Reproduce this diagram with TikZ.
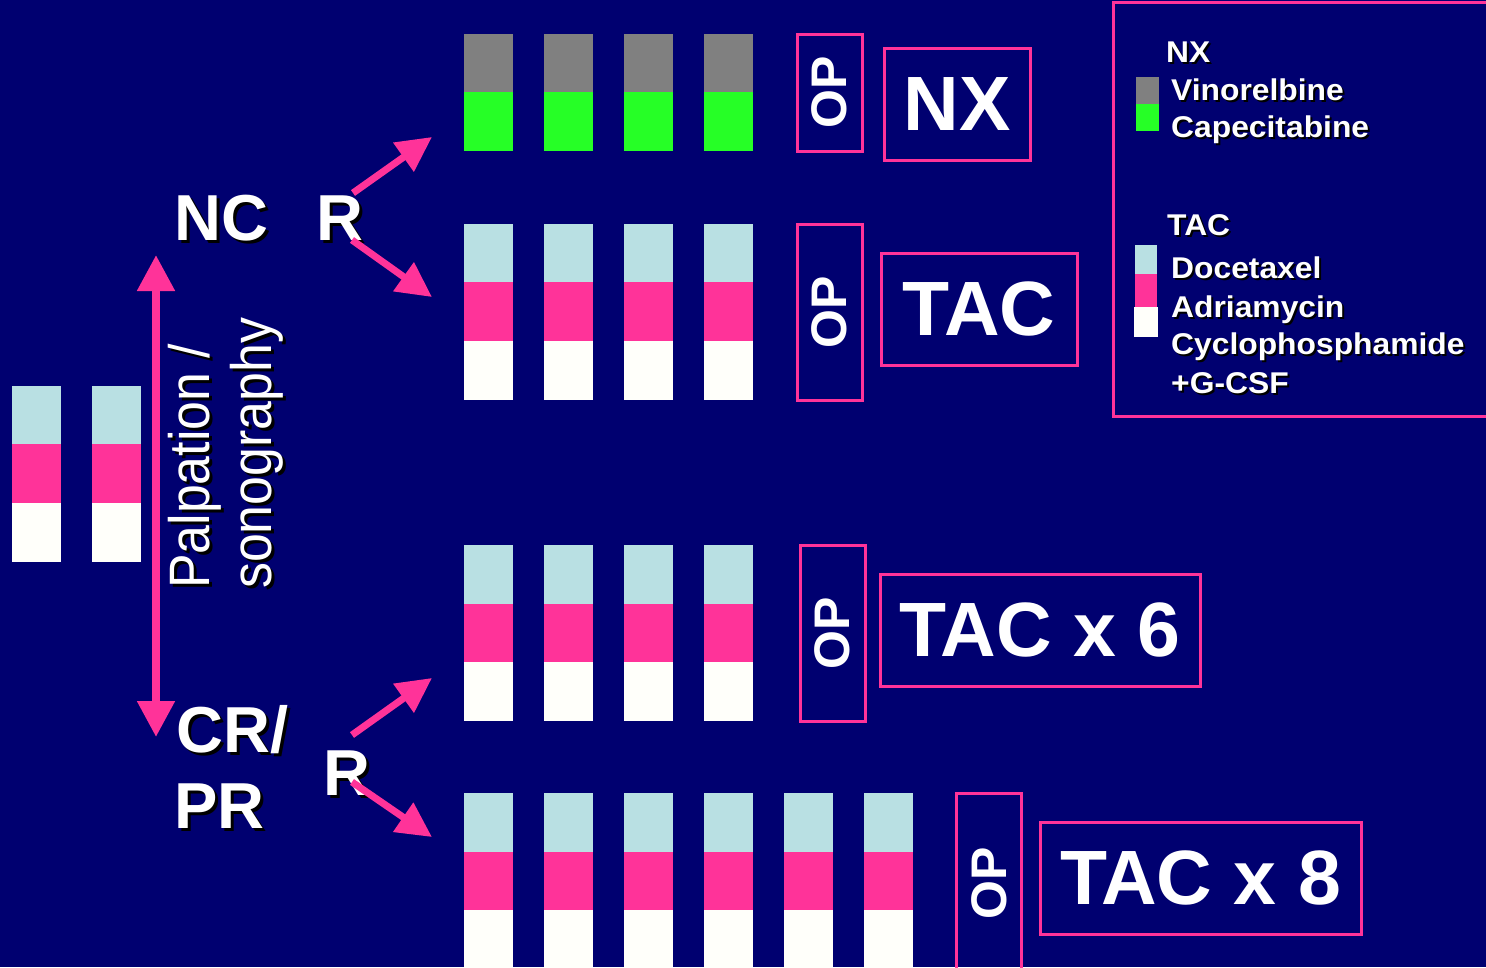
\documentclass[tikz,border=0pt]{standalone}
\usepackage{fontspec}
\setmainfont{Liberation Sans}
\newfontfamily\legfont[FakeStretch=1.06]{Liberation Sans}
\newfontfamily\palpfont[FakeStretch=0.91]{Liberation Sans}
\usetikzlibrary{arrows.meta}
\definecolor{navy}{RGB}{0,0,112}
\definecolor{hot}{RGB}{255,51,153}
\definecolor{lblue}{RGB}{185,224,227}
\definecolor{lgreen}{RGB}{38,255,38}
\definecolor{dgray}{RGB}{128,128,128}
\definecolor{offwhite}{RGB}{255,255,250}
\newcommand\stxt[6]{% name, x, y, style, shadow offset, text
  \node[#4, text=black] (#1s) at (#2+#5,#3+#5) {#6};
  \node[#4, text=white] (#1) at (#2,#3) {#6};}
\tikzset{
  bigl/.style={font=\fontsize{65}{70}\selectfont\bfseries, inner sep=0, anchor=base west},
  legl/.style={font=\legfont\fontsize{30}{34}\selectfont\bfseries, inner sep=0, anchor=base west},
  palp/.style={font=\palpfont\fontsize{57}{60}\selectfont, inner sep=0, anchor=base west, rotate=90},
  opbox/.style={draw=hot, line width=3, rotate=90, inner sep=0, text=white,
    font=\fontsize{50}{50}\selectfont\bfseries, minimum height=65},
  lblbox/.style={draw=hot, line width=3, inner sep=0, text=white,
    font=\fontsize{77}{80}\selectfont\bfseries, minimum height=112},
  arr/.style={hot, line width=7, -{Triangle[length=35pt,width=34pt]}},
  vArr/.style={hot, line width=8, {Triangle[length=36pt,width=36pt]}-{Triangle[length=36pt,width=36pt]}},
}
\begin{document}
\begin{tikzpicture}[x=1pt,y=-1pt]
\useasboundingbox (0,0) rectangle (1486,967);
\fill[navy] (0,0) rectangle (1486,967);
\clip (0,0) rectangle (1486,967);

% ---- left blocks
\foreach \x in {12,92}{
  \fill[lblue] (\x,386) rectangle (\x+49,444);
  \fill[hot] (\x,444) rectangle (\x+49,503);
  \fill[offwhite] (\x,503) rectangle (\x+49,562);
}
% ---- NX row
\foreach \x in {464,544,624,704}{
  \fill[dgray] (\x,34) rectangle (\x+49,92);
  \fill[lgreen] (\x,92) rectangle (\x+49,151);
}
% ---- TAC rows
\foreach \x in {464,544,624,704}{
  \fill[lblue] (\x,224) rectangle (\x+49,282);
  \fill[hot] (\x,282) rectangle (\x+49,341);
  \fill[offwhite] (\x,341) rectangle (\x+49,400);
  \fill[lblue] (\x,545) rectangle (\x+49,604);
  \fill[hot] (\x,604) rectangle (\x+49,662);
  \fill[offwhite] (\x,662) rectangle (\x+49,721);
}
\foreach \x in {464,544,624,704,784,864}{
  \fill[lblue] (\x,793) rectangle (\x+49,852);
  \fill[hot] (\x,852) rectangle (\x+49,910);
  \fill[offwhite] (\x,910) rectangle (\x+49,975);
}

% ---- OP boxes
\node[opbox, minimum width=117] (op1) at (829.5,92.5) {OP};
\node[opbox, minimum width=176] (op2) at (829.5,312) {OP};
\node[opbox, minimum width=176] (op3) at (832.5,633) {OP};
\node[opbox, minimum width=180] (op4) at (989,883) {OP};

% ---- regimen boxes
\node[lblbox, minimum width=146] (nx) at (957,104) {NX};
\node[lblbox, minimum width=196] (tac) at (979,309) {TAC};
\node[lblbox, minimum width=320] (tac6) at (1040,630) {TAC x 6};
\node[lblbox, minimum width=321] (tac8) at (1200.5,878) {TAC x 8};

% ---- labels
\stxt{nc}{174}{240}{bigl}{3}{NC}
\stxt{ra}{316}{240}{bigl}{3}{R}
\stxt{cr}{176}{752}{bigl}{3}{CR/}
\stxt{pr}{174}{828}{bigl}{3}{PR}
\stxt{rb}{323}{795}{bigl}{3}{R}
\stxt{pal}{209}{589}{palp}{3}{Palpation /}
\stxt{son}{271}{589}{palp}{3}{sonography}

% ---- arrows
\coordinate (vtop) at (156,255);
\coordinate (vbot) at (156,737);
\draw[vArr] (vtop) -- (vbot);
\coordinate (ra1) at (353,193);
\coordinate (ra2) at (352,240);
\coordinate (rb1) at (352,735);
\coordinate (rb2) at (352,782);
\coordinate (t1) at (432,137);
\coordinate (t2) at (432,297);
\coordinate (t3) at (432,678);
\coordinate (t4) at (432,837);
\draw[arr] (ra1) -- (t1);
\draw[arr] (ra2) -- (t2);
\draw[arr] (rb1) -- (t3);
\draw[arr] (rb2) -- (t4);

% ---- legend
\draw[hot, line width=3] (1113,2) rectangle (1500,416);
\fill[dgray] (1136,77) rectangle (1159,104);
\fill[lgreen] (1136,104) rectangle (1159,131);
\fill[lblue] (1135,245) rectangle (1157,274);
\fill[hot] (1135,274) rectangle (1157,307);
\fill[offwhite] (1134,307) rectangle (1158,337);
\stxt{lnx}{1166}{62}{legl}{2}{NX}
\stxt{lvin}{1171}{100}{legl}{2}{Vinorelbine}
\stxt{lcap}{1171}{137}{legl}{2}{Capecitabine}
\stxt{ltac}{1167}{235}{legl}{2}{TAC}
\stxt{ldoc}{1171}{278}{legl}{2}{Docetaxel}
\stxt{ladr}{1171}{317}{legl}{2}{Adriamycin}
\stxt{lcyc}{1171}{354}{legl}{2}{Cyclophosphamide}
\stxt{lgcsf}{1171}{393}{legl}{2}{+G-CSF}
\end{tikzpicture}
\end{document}
